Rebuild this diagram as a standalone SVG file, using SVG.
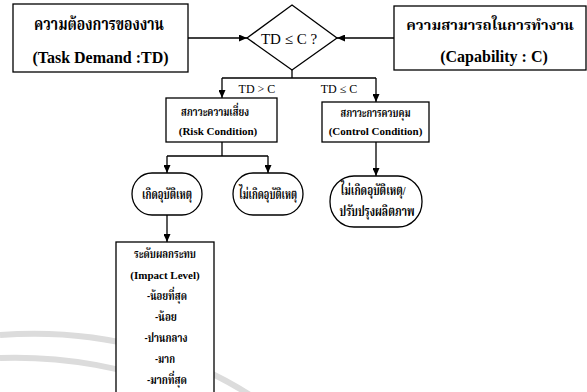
<svg xmlns="http://www.w3.org/2000/svg" width="587" height="392" viewBox="0 0 587 392">
<style>
.bx{fill:#fff;stroke:#000;stroke-width:1.3}
.ln{fill:none;stroke:#000;stroke-width:1.3}
.wm{fill:none;stroke:#dcdcdc;stroke-width:6}
text{font-family:"Liberation Serif","Noto Serif Thai","Noto Sans Thai",serif;text-anchor:middle;fill:#000}
.b16{font-size:16px;font-weight:bold}
.t18{font-size:18px;font-weight:bold}
.t15{font-size:14.6px;font-weight:bold}
.b11{font-size:11px;font-weight:bold}
.t12{font-size:12.5px;font-weight:bold}
.t13{font-size:13.5px;font-weight:bold}
.r15{font-size:15px}
.r12{font-size:12px}
</style>
<defs>
<marker id="ah" markerUnits="userSpaceOnUse" markerWidth="8" markerHeight="7" refX="8" refY="3.5" orient="auto">
<path d="M0,0 L8,3.5 L0,7 z" fill="#000"/>
</marker>
</defs>
<g id="watermark">
<path class="wm" d="M0,335 C70,330 160,338 250,395"/>
<path class="wm" d="M0,358 C60,356 130,366 195,395"/>
</g>
<g id="connectors">
<path class="ln" d="M188,38 H247" marker-end="url(#ah)"/>
<path class="ln" d="M394,38 H337" marker-end="url(#ah)"/>
<path class="ln" d="M292,70 V78 M222,78 H376"/>
<path class="ln" d="M222,78 V98" marker-end="url(#ah)"/>
<path class="ln" d="M376,78 V102" marker-end="url(#ah)"/>
<path class="ln" d="M222,142 V156 M167,156 H268"/>
<path class="ln" d="M167,156 V173" marker-end="url(#ah)"/>
<path class="ln" d="M268,156 V173" marker-end="url(#ah)"/>
<path class="ln" d="M376,142 V176" marker-end="url(#ah)"/>
<path class="ln" d="M167,215 V242" marker-end="url(#ah)"/>
<text class="r12" x="257" y="93">TD &gt; C</text>
<text class="r12" x="339" y="93">TD ≤ C</text>
</g>
<g id="task-demand">
<rect class="bx" x="13" y="4" width="175" height="68"/>
<text class="t18" x="99" y="30" textLength="130" lengthAdjust="spacingAndGlyphs">ความต้องการของงาน</text>
<text class="b16" x="100.5" y="63" textLength="136" lengthAdjust="spacingAndGlyphs">(Task Demand :TD)</text>
</g>
<g id="capability">
<rect class="bx" x="394" y="6" width="192" height="64"/>
<text class="t15" x="490" y="30">ความสามารถในการทำงาน</text>
<text class="b16" x="494" y="62">(Capability : C)</text>
</g>
<g id="decision">
<polygon class="bx" points="292,5 337,38 292,70 247,38"/>
<text class="r15" x="289" y="44">TD ≤ C ?</text>
</g>
<g id="risk">
<rect class="bx" x="166" y="98" width="111" height="44"/>
<text class="t12" x="215" y="116" textLength="68" lengthAdjust="spacingAndGlyphs">สภาวะความเสี่ยง</text>
<text class="b11" x="218" y="135">(Risk Condition)</text>
</g>
<g id="control">
<rect class="bx" x="322" y="102" width="107" height="40"/>
<text class="t12" x="375.5" y="117" textLength="70" lengthAdjust="spacingAndGlyphs">สภาวะการควบคุม</text>
<text class="b11" x="375.5" y="135">(Control Condition)</text>
</g>
<g id="accident">
<rect class="bx" x="132" y="173" width="70" height="42" rx="20" ry="21"/>
<text class="t13" x="167" y="199" textLength="50" lengthAdjust="spacingAndGlyphs">เกิดอุบัติเหตุ</text>
</g>
<g id="no-accident">
<rect class="bx" x="233" y="173" width="70" height="42" rx="20" ry="21"/>
<text class="t13" x="268" y="199" textLength="58" lengthAdjust="spacingAndGlyphs">ไม่เกิดอุบัติเหตุ</text>
</g>
<g id="improve">
<rect class="bx" x="330" y="176" width="92" height="51" rx="24" ry="25"/>
<text class="t13" x="373" y="195" textLength="65" lengthAdjust="spacingAndGlyphs">ไม่เกิดอุบัติเหตุ/</text>
<text class="t13" x="377" y="216" textLength="75" lengthAdjust="spacingAndGlyphs">ปรับปรุงผลิตภาพ</text>
</g>
<g id="impact">
<rect class="bx" x="116" y="242" width="98" height="160"/>
<text class="t12" x="165" y="258" textLength="62" lengthAdjust="spacingAndGlyphs">ระดับผลกระทบ</text>
<text class="b11" x="165" y="279">(Impact Level)</text>
<text class="t12" x="167" y="300" textLength="40" lengthAdjust="spacingAndGlyphs">-น้อยที่สุด</text>
<text class="t12" x="166" y="321" textLength="22" lengthAdjust="spacingAndGlyphs">-น้อย</text>
<text class="t12" x="166" y="342" textLength="43" lengthAdjust="spacingAndGlyphs">-ปานกลาง</text>
<text class="t12" x="165" y="363" textLength="20" lengthAdjust="spacingAndGlyphs">-มาก</text>
<text class="t12" x="167" y="384" textLength="40" lengthAdjust="spacingAndGlyphs">-มากที่สุด</text>
</g>
</svg>
